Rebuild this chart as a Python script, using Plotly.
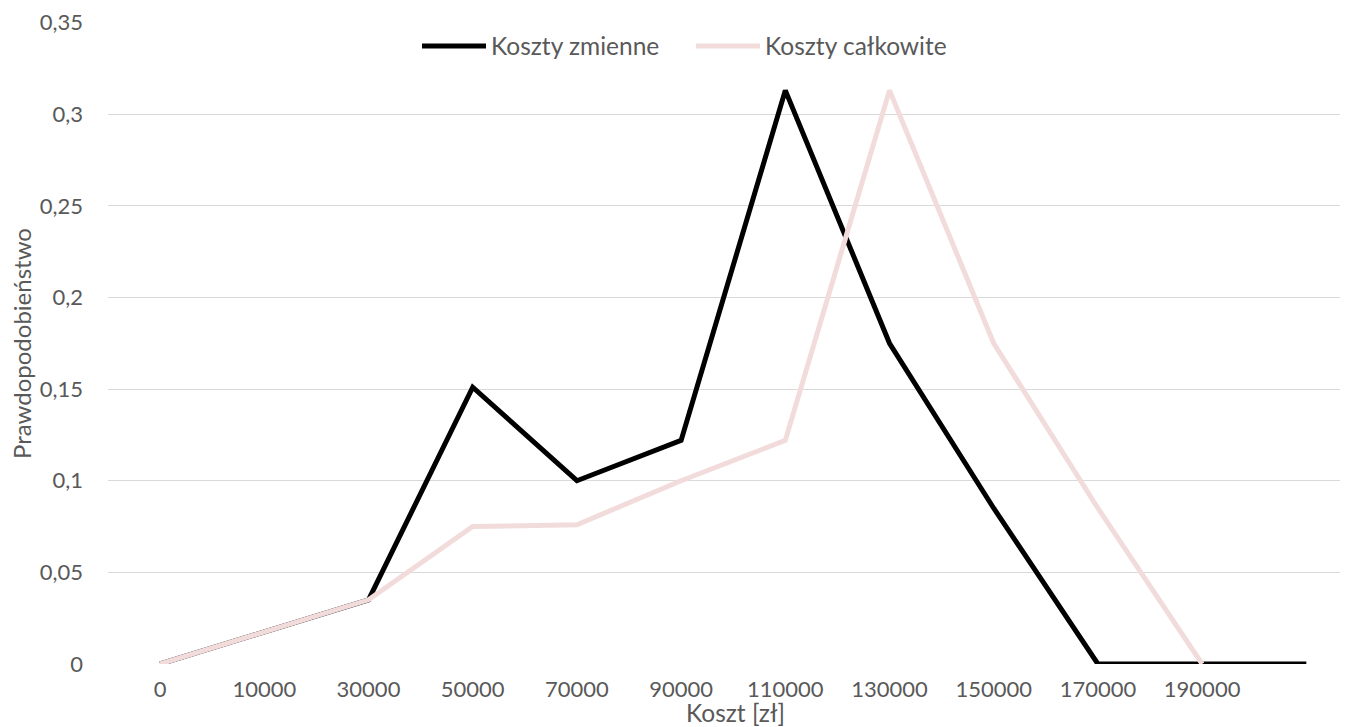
import plotly.graph_objects as go

categories = ["0", "10000", "30000", "50000", "70000", "90000", "110000",
              "130000", "150000", "170000", "190000", ""]
koszty_zmienne = [0, 0.0175, 0.035, 0.151, 0.1, 0.122, 0.313, 0.175, 0.085, 0, 0, 0]
koszty_calkowite = [0, 0.0175, 0.035, 0.075, 0.076, 0.1, 0.122, 0.313, 0.175, 0.085, 0, None]
y_ticks = [0, 0.05, 0.1, 0.15, 0.2, 0.25, 0.3, 0.35]
y_ticktext = ["0", "0,05", "0,1", "0,15", "0,2", "0,25", "0,3", "0,35"]

FONT = "Lato"
GREY = "#595959"

xs = list(range(len(categories)))

fig = go.Figure()
fig.add_trace(go.Scatter(x=xs, y=koszty_zmienne, mode="lines", name="Koszty zmienne",
                         line=dict(color="#000000", width=5), connectgaps=False))
fig.add_trace(go.Scatter(x=xs, y=koszty_calkowite, mode="lines", name="Koszty całkowite",
                         line=dict(color="#F2DCDB", width=5), connectgaps=False))

# page body adds an 8px offset; compensate so the plot area is at 108..1348 x 22..664
fig.update_layout(
    width=1340, height=719,
    margin=dict(l=100, r=0, t=14, b=63),
    paper_bgcolor="white", plot_bgcolor="white",
    font=dict(family=FONT, color=GREY, size=22),
    showlegend=True,
    legend=dict(orientation="h", x=(691 - 108) / 1240, xanchor="center",
                y=(664 - 46) / 642, yanchor="middle",
                font=dict(size=24.5, color=GREY), bgcolor="rgba(0,0,0,0)",
                itemwidth=64, tracegroupgap=0, entrywidth=195),
    xaxis=dict(range=[-0.5, 11.4], tickmode="array", tickvals=xs, ticktext=categories,
               showgrid=False, zeroline=False, showline=False, ticks="",
               tickfont=dict(size=22, color=GREY), ticklabelstandoff=10),
    yaxis=dict(range=[0, 0.3503], tickmode="array", tickvals=y_ticks, ticktext=y_ticktext,
               showgrid=True, gridcolor="#D9D9D9", gridwidth=1, zeroline=False,
               showline=False, ticks="", tickfont=dict(size=22, color=GREY),
               ticklabelstandoff=24),
    annotations=[
        dict(text="Koszt [zł]", xref="paper", yref="paper", x=(735 - 108) / 1240,
             y=-(712 - 664) / 642, xanchor="center", yanchor="middle", showarrow=False,
             font=dict(size=24.5, color=GREY)),
        dict(text="Prawdopodobieństwo", xref="paper", yref="paper", x=-(108 - 22) / 1240,
             y=(664 - 344) / 642, xanchor="center", yanchor="middle", showarrow=False,
             textangle=-90, font=dict(size=24, color=GREY)),
    ],
)

fig.write_html("out.html")
